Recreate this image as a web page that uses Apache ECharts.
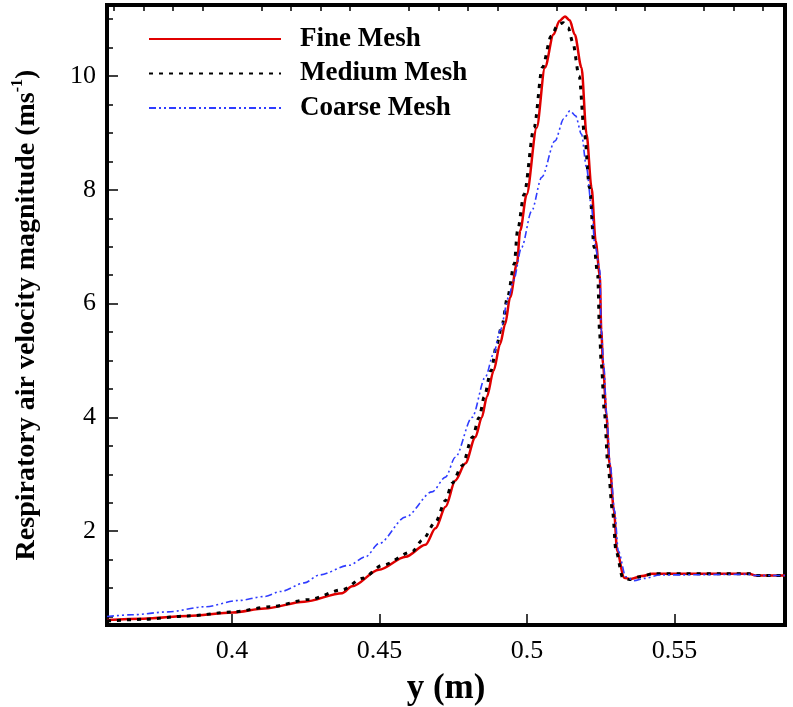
<!DOCTYPE html>
<html>
<head>
<meta charset="utf-8">
<script src="https://cdn.jsdelivr.net/npm/echarts@6/dist/echarts.min.js"></script>
<style>
  html, body { margin: 0; padding: 0; background: #fff; }
  #chart { width: 793px; height: 707px; }
</style>
</head>
<body>
<div id="chart"></div>
<script>
var seriesNames = ['Fine Mesh', 'Medium Mesh', 'Coarse Mesh'];

// [y (m), velocity (m/s)]
var fineMesh = [
  [0.3576, 0.44], [0.3700, 0.46], [0.3850, 0.51], [0.4003, 0.57], [0.4110, 0.64],
  [0.4245, 0.76], [0.4374, 0.91], [0.4407, 1.03], [0.4498, 1.32], [0.4589, 1.55],
  [0.4656, 1.76], [0.4690, 2.05], [0.4724, 2.43], [0.4757, 2.89], [0.4791, 3.19],
  [0.4825, 3.65], [0.4847, 4.00], [0.4864, 4.36], [0.4887, 4.82], [0.4909, 5.29],
  [0.4926, 5.64], [0.4943, 6.11], [0.4966, 6.70], [0.4977, 7.28], [0.4999, 7.92],
  [0.5033, 9.09], [0.5061, 10.15], [0.5090, 10.73], [0.5110, 10.97], [0.5129, 11.05],
  [0.5145, 10.98], [0.5162, 10.73], [0.5185, 10.15], [0.5202, 8.98], [0.5219, 8.04],
  [0.5233, 7.10], [0.5247, 6.50], [0.5252, 5.53], [0.5258, 4.94], [0.5269, 4.07],
  [0.5280, 3.19], [0.5295, 2.36], [0.5306, 1.65], [0.5329, 1.18], [0.5352, 1.16],
  [0.5390, 1.21], [0.5425, 1.25], [0.5500, 1.25], [0.5754, 1.25], [0.5775, 1.22],
  [0.5875, 1.22]
];

var mediumMesh = [
  [0.3576, 0.42], [0.3700, 0.45], [0.3850, 0.51], [0.4003, 0.58], [0.4130, 0.67],
  [0.4262, 0.80], [0.4374, 0.97], [0.4442, 1.17], [0.4510, 1.40], [0.4611, 1.64],
  [0.4645, 1.84], [0.4690, 2.16], [0.4724, 2.54], [0.4746, 2.84], [0.4780, 3.15],
  [0.4815, 3.65], [0.4838, 4.00], [0.4855, 4.36], [0.4878, 4.82], [0.4898, 5.29],
  [0.4916, 5.64], [0.4934, 6.11], [0.4957, 6.70], [0.4968, 7.28], [0.4990, 7.92],
  [0.5024, 9.09], [0.5052, 10.15], [0.5082, 10.70], [0.5105, 10.90], [0.5123, 10.94],
  [0.5140, 10.85], [0.5155, 10.60], [0.5177, 10.00], [0.5195, 8.98], [0.5212, 8.04],
  [0.5228, 6.99], [0.5240, 6.50], [0.5246, 5.53], [0.5252, 4.94], [0.5263, 4.07],
  [0.5274, 3.19], [0.5290, 2.36], [0.5302, 1.65], [0.5325, 1.18], [0.5348, 1.15],
  [0.5385, 1.20], [0.5425, 1.25], [0.5754, 1.25], [0.5775, 1.22], [0.5875, 1.22]
];

var coarseMesh = [
  [0.3576, 0.50], [0.3660, 0.53], [0.3783, 0.58], [0.3907, 0.67], [0.4020, 0.78],
  [0.4110, 0.85], [0.4166, 0.94], [0.4245, 1.09], [0.4296, 1.23], [0.4397, 1.40],
  [0.4453, 1.55], [0.4498, 1.78], [0.4589, 2.25], [0.4678, 2.69], [0.4724, 2.95],
  [0.4757, 3.30], [0.4814, 4.00], [0.4859, 4.71], [0.4887, 5.12], [0.4909, 5.53],
  [0.4938, 6.11], [0.4954, 6.40], [0.4982, 6.99], [0.5016, 7.63], [0.5050, 8.22],
  [0.5095, 8.86], [0.5125, 9.25], [0.5146, 9.39], [0.5165, 9.30], [0.5185, 8.98],
  [0.5202, 8.39], [0.5219, 7.69], [0.5230, 7.05], [0.5247, 6.60], [0.5252, 5.53],
  [0.5260, 4.94], [0.5270, 4.07], [0.5282, 3.19], [0.5297, 2.36], [0.5310, 1.65],
  [0.5335, 1.20], [0.5363, 1.13], [0.5400, 1.17], [0.5450, 1.23], [0.5754, 1.24],
  [0.5775, 1.22], [0.5875, 1.22]
];

var xMajorTicks = [0.4, 0.45, 0.5, 0.55];
var xMinorTicks = [0.36, 0.37, 0.38, 0.39, 0.41, 0.42, 0.43, 0.44, 0.46, 0.47, 0.48, 0.49,
  0.51, 0.52, 0.53, 0.54, 0.56, 0.57, 0.58];
var yMajorTicks = [2, 4, 6, 8, 10];
var yMinorTicks = [0.5, 1, 1.5, 2.5, 3, 3.5, 4.5, 5, 5.5, 6.5, 7, 7.5, 8.5, 9, 9.5, 10.5, 11];

var xMin = 0.3576, xMax = 0.5875;
var yMin = 0.35, yMax = 11.25;

var serif = '"Liberation Serif", "DejaVu Serif", serif';

var chart = echarts.init(document.getElementById('chart'));

function xAxisBase(ticks, len, showLabel) {
  return {
    type: 'value',
    min: xMin,
    max: xMax,
    splitLine: { show: false },
    axisLine: { show: showLabel, onZero: false, lineStyle: { color: '#000', width: 4 } },
    axisTick: { show: true, inside: true, length: len, customValues: ticks, lineStyle: { color: '#000', width: 1.5 } },
    axisLabel: {
      show: showLabel,
      customValues: ticks,
      margin: 13,
      color: '#000',
      fontFamily: serif,
      fontSize: 26
    }
  };
}

function yAxisBase(ticks, len, showLabel) {
  return {
    type: 'value',
    min: yMin,
    max: yMax,
    position: 'left',
    splitLine: { show: false },
    axisLine: { show: showLabel, onZero: false, lineStyle: { color: '#000', width: 4 } },
    axisTick: { show: true, inside: true, length: len, customValues: ticks, lineStyle: { color: '#000', width: 1.5 } },
    axisLabel: {
      show: showLabel,
      customValues: ticks,
      margin: 11,
      color: '#000',
      fontFamily: serif,
      fontSize: 26
    }
  };
}

var xMain = xAxisBase(xMajorTicks, 11, true);
xMain.name = 'y (m)';
xMain.nameLocation = 'middle';
xMain.nameGap = 46;
xMain.nameTextStyle = { color: '#000', fontFamily: serif, fontSize: 35, fontWeight: 'bold' };

var yMain = yAxisBase(yMajorTicks, 11, true);
yMain.name = '{a|Respiratory air velocity magnitude (ms}{s|-1}{a|)}';
yMain.nameLocation = 'middle';
yMain.nameGap = 66;
yMain.nameTextStyle = {
  color: '#000',
  rich: {
    a: { fontFamily: serif, fontSize: 28, fontWeight: 'bold', color: '#000', lineHeight: 31, verticalAlign: 'bottom' },
    s: { fontFamily: serif, fontSize: 16, fontWeight: 'bold', color: '#000', lineHeight: 31, verticalAlign: 'top' }
  }
};

var option = {
  backgroundColor: '#fff',
  animation: false,
  grid: {
    left: 107,
    right: 8,
    top: 5,
    bottom: 82,
    show: true,
    borderColor: '#000',
    borderWidth: 4,
    containLabel: false,
    outerBoundsMode: 'none'
  },
  legend: {
    data: seriesNames,
    orient: 'vertical',
    left: 143,
    top: 20,
    itemWidth: 132,
    itemHeight: 14,
    itemGap: 6.5,
    // hide the marker dot, keep only the line sample
    itemStyle: { opacity: 0 },
    textStyle: {
      color: '#000',
      fontFamily: serif,
      fontSize: 27,
      fontWeight: 'bold',
      lineHeight: 28,
      padding: [0, 0, 0, 14]
    }
  },
  xAxis: [xMain, xAxisBase(xMinorTicks, 6, false)],
  yAxis: [yMain, yAxisBase(yMinorTicks, 6, false)],
  series: [
    {
      name: seriesNames[0],
      type: 'line',
      data: fineMesh,
      symbol: 'none',
      smooth: 0.3,
      smoothMonotone: 'x',
      z: 2,
      lineStyle: { color: '#e00000', width: 2.5, type: 'solid' },
      itemStyle: { color: '#e00000' }
    },
    {
      name: seriesNames[1],
      type: 'line',
      data: mediumMesh,
      symbol: 'none',
      smooth: 0.3,
      smoothMonotone: 'x',
      z: 3,
      lineStyle: { color: '#000', width: 3, type: [4, 6] },
      itemStyle: { color: '#000' }
    },
    {
      name: seriesNames[2],
      type: 'line',
      data: coarseMesh,
      symbol: 'none',
      smooth: 0.3,
      smoothMonotone: 'x',
      z: 4,
      lineStyle: { color: '#2f3cff', width: 1.6, type: [7, 3, 2, 3, 2, 3] },
      itemStyle: { color: '#2f3cff' }
    }
  ]
};

chart.setOption(option);
</script>
</body>
</html>
